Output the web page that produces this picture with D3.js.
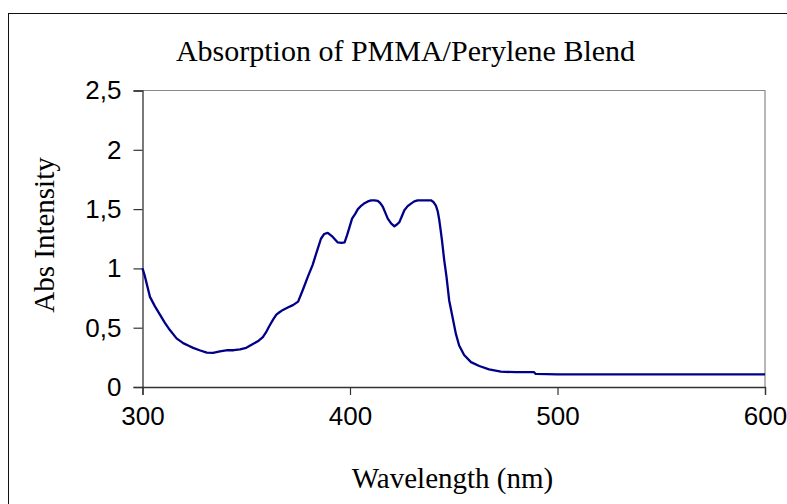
<!DOCTYPE html>
<html><head><meta charset="utf-8">
<script src="https://cdn.jsdelivr.net/npm/d3@7"></script>
<style>body{margin:0;background:#fff}svg{display:block}</style>
</head><body>
<script>
const titleText = "Absorption of PMMA/Perylene Blend";
const xTitle = "Wavelength (nm)";
const yTitle = "Abs Intensity";
const xTicks = [300, 400, 500, 600];
const yTicks = [0, 0.5, 1, 1.5, 2, 2.5];
const wavelength = [300,301.2,303.6,306,308.4,310.8,313.2,316.4,319.6,322,324.4,327.5,331,334,337.3,341,344,347,350,353,356,358,359.5,361,363,364.5,366,367.7,370,372.5,375,377.3,379.7,382,383.7,386,387.5,389.3,391.7,394,396,397.4,398.6,399.8,401,402.5,403.8,405.5,407,408.6,410.2,411.8,413.4,414.6,415.8,417,418.2,419.8,421.4,422.6,423.8,425,426.2,427.8,429.4,431,432.6,435,437.5,439,440.2,441.4,442.3,443,443.7,444.3,445.4,446.5,447.8,449.4,451,452.6,455,458.3,462.3,467,472.7,480,488.7,489.5,500,550,600];
const absorbance = [1.00,0.93,0.76,0.68,0.61,0.54,0.48,0.41,0.37,0.35,0.33,0.31,0.29,0.288,0.30,0.31,0.31,0.317,0.33,0.36,0.39,0.42,0.46,0.51,0.57,0.61,0.63,0.65,0.67,0.69,0.72,0.82,0.93,1.03,1.125,1.25,1.29,1.30,1.265,1.22,1.215,1.22,1.28,1.35,1.42,1.46,1.50,1.53,1.55,1.565,1.574,1.574,1.57,1.55,1.52,1.47,1.42,1.38,1.355,1.37,1.39,1.44,1.49,1.525,1.546,1.565,1.574,1.574,1.574,1.574,1.56,1.53,1.48,1.41,1.32,1.24,1.07,0.93,0.73,0.59,0.45,0.35,0.27,0.21,0.177,0.149,0.129,0.125,0.125,0.11,0.106,0.106,0.106];

const W = 787, H = 504;
const svg = d3.select("body").append("svg").attr("width", W).attr("height", H);

// outer frame
svg.append("rect").attr("x", 8.5).attr("y", 13.5).attr("width", 900).attr("height", 700)
  .attr("fill", "#fff").attr("stroke", "#111").attr("stroke-width", 1);

const x = d3.scaleLinear().domain([300, 600]).range([142.5, 765]);
const y = d3.scaleLinear().domain([0, 2.5]).range([387, 90.5]);

// plot border top/right
svg.append("path")
  .attr("d", `M${x(300)},${y(2.5)}H${x(600)}V${y(0)}`)
  .attr("fill", "none").attr("stroke", "#888").attr("stroke-width", 1.2);

const fmt = d => String(d).replace(".", ",");
const yAxis = svg.append("g").attr("transform", `translate(${x(300)},0)`)
  .call(d3.axisLeft(y).tickValues(yTicks).tickFormat(fmt).tickSize(9).tickPadding(12));
const xAxis = svg.append("g").attr("transform", `translate(0,${y(0)})`)
  .call(d3.axisBottom(x).tickValues(xTicks).tickFormat(d3.format("d")).tickSize(8).tickPadding(12));
[yAxis, xAxis].forEach(g => {
  g.select(".domain").attr("stroke", "#333").attr("stroke-width", 1.3);
  g.selectAll(".tick line").attr("stroke", "#333").attr("stroke-width", 1.2);
  g.selectAll("text").attr("font-family", "Liberation Sans, Arial, sans-serif")
    .attr("font-size", 26).attr("fill", "#000");
});
xAxis.selectAll("text").attr("dy", "0.71em");

const pts = wavelength.map((w, i) => [w, absorbance[i]]);
svg.append("path").datum(pts)
  .attr("d", d3.line().x(d => x(d[0])).y(d => y(d[1])).curve(d3.curveLinear))
  .attr("fill", "none").attr("stroke", "#000088").attr("stroke-width", 2.3)
  .attr("stroke-linejoin", "round");

const serif = "Liberation Serif, Times New Roman, serif";
svg.append("text").attr("x", 405.5).attr("y", 61).attr("text-anchor", "middle")
  .attr("font-family", serif).attr("font-size", 30).text(titleText);
svg.append("text").attr("x", 452.5).attr("y", 488).attr("text-anchor", "middle")
  .attr("font-family", serif).attr("font-size", 29).text(xTitle);
svg.append("text").attr("transform", "translate(54,235) rotate(-90)").attr("text-anchor", "middle")
  .attr("font-family", serif).attr("font-size", 29).text(yTitle);
</script>
</body></html>
